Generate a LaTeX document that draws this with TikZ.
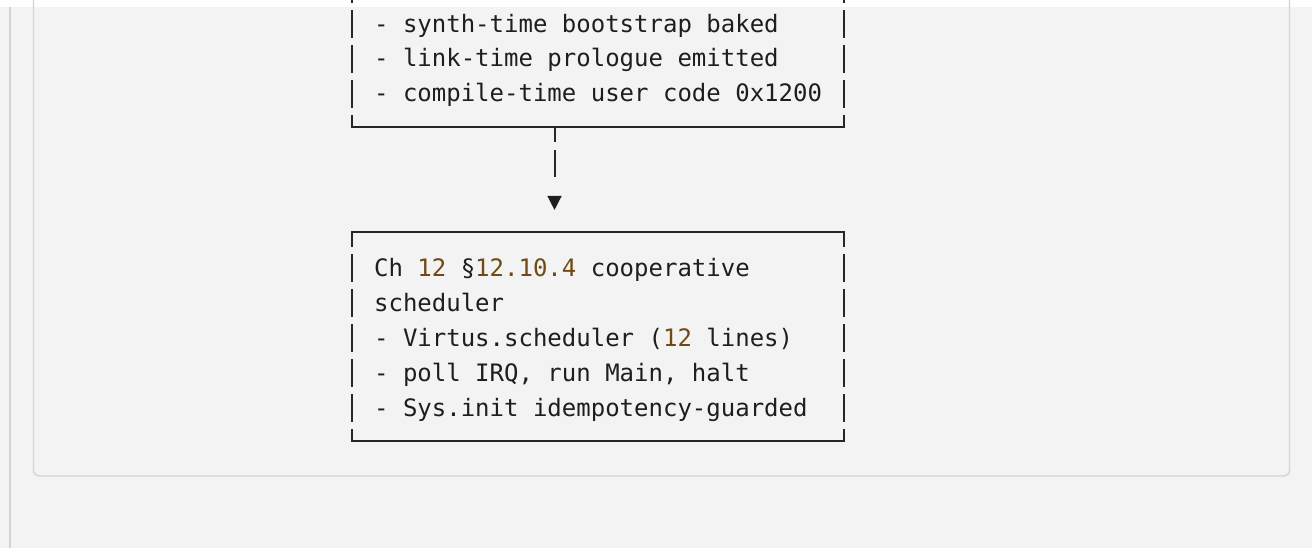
\documentclass[tikz,border=0pt]{standalone}
\usepackage{fontspec}
\newfontfamily\codefont{DejaVu Sans Mono}
\usetikzlibrary{shapes.geometric}

\definecolor{pagebg}{HTML}{F3F3F3}
\definecolor{rulegrey}{HTML}{D3D3D3}
\definecolor{panelrule}{HTML}{D4D4D4}
\definecolor{ink}{HTML}{1E1E1E}
\definecolor{boxink}{HTML}{262626}
\definecolor{numbrown}{HTML}{6F4A12}
\newcommand\numc[1]{\textcolor{numbrown}{#1}}

\begin{document}
\begin{tikzpicture}[x=1pt,y=-1pt,
  codeline/.style={anchor=base west, inner sep=0pt, text=ink,
    font=\codefont\fontsize{24}{34.9}\selectfont},
  hrule/.style={draw=boxink, line width=2pt},
  vsideup/.style={draw=boxink, line width=2pt,
    dash pattern=on 27.6pt off 7.3pt, dash phase=15.2pt},
  vsidedown/.style={draw=boxink, line width=2pt,
    dash pattern=on 27.6pt off 7.3pt, dash phase=12.4pt},
  stem/.style={draw=boxink, line width=2pt,
    dash pattern=on 15.2pt off 7.3pt on 27.6pt off 40pt},
  arrowhead/.style={isosceles triangle, isosceles triangle stretches,
    shape border rotate=270, minimum width=14.4pt, minimum height=14pt,
    inner sep=0pt, fill=ink, draw=none},
]
\useasboundingbox (0,0) rectangle (1312,548);

% page background, header strip, gutter rule and the code panel
\fill[pagebg] (0,0) rectangle (1312,548);
\fill[white] (0,0) rectangle (1312,7);
\draw[rulegrey, line width=2pt] (10,7) -- (10,548);
\draw[panelrule, line width=1.4pt, rounded corners=6pt]
  (33.5,-10) -- (33.5,476) -- (1289.5,476) -- (1289.5,-10);

% box corners and connector ends
\coordinate (A-sw) at (352.2,127.3);
\coordinate (A-se) at (843.5,127.3);
\coordinate (A-s)  at (554.5,127.3);
\coordinate (B-nw) at (352.2,232.0);
\coordinate (B-ne) at (843.5,232.0);
\coordinate (B-sw) at (352.2,441.4);
\coordinate (B-se) at (843.5,441.4);

% upper box (its top lies above the visible area)
\draw[hrule] ([xshift=-1pt]A-sw) -- ([xshift=1pt]A-se);
\draw[vsideup] (A-sw) -- ++(0,-160);
\draw[vsideup] (A-se) -- ++(0,-160);

\node[codeline] (a1) at (373.9,32.1)  {- synth-time bootstrap baked};
\node[codeline] (a2) at (373.9,67.0)  {- link-time prologue emitted};
\node[codeline] (a3) at (373.9,101.9) {- compile-time user code 0x1200};

% connector
\node[arrowhead] (tip) at (554.5,200.3) {};
\draw[stem] (A-s) -- (tip.north);

% lower box
\draw[hrule] ([xshift=-1pt]B-nw) -- ([xshift=1pt]B-ne);
\draw[hrule] ([xshift=-1pt]B-sw) -- ([xshift=1pt]B-se);
\draw[vsidedown] (B-nw) -- (B-sw);
\draw[vsidedown] (B-ne) -- (B-se);

\node[codeline] (b1) at (373.9,276.4) {Ch \numc{12} §\numc{12.10.4} cooperative};
\node[codeline] (b2) at (373.9,311.3) {scheduler};
\node[codeline] (b3) at (373.9,346.2) {- Virtus.scheduler (\numc{12} lines)};
\node[codeline] (b4) at (373.9,381.1) {- poll IRQ, run Main, halt};
\node[codeline] (b5) at (373.9,416.0) {- Sys.init idempotency-guarded};
\end{tikzpicture}
\end{document}
